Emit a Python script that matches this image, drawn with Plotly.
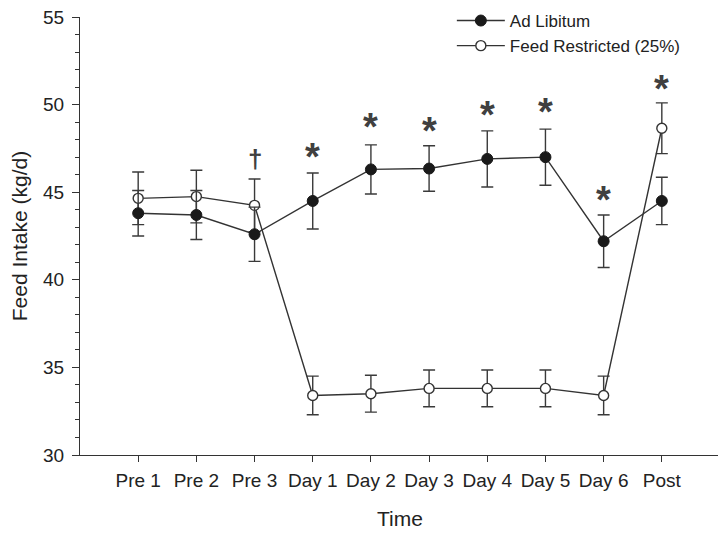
import plotly.graph_objects as go

periods = ['Pre 1', 'Pre 2', 'Pre 3', 'Day 1', 'Day 2', 'Day 3', 'Day 4', 'Day 5', 'Day 6', 'Post']

ad_lib = [43.8, 43.7, 42.6, 44.5, 46.3, 46.35, 46.9, 47.0, 42.2, 44.5]
ad_lib_se = [1.3, 1.4, 1.55, 1.6, 1.4, 1.3, 1.6, 1.6, 1.5, 1.35]

restricted = [44.65, 44.75, 44.25, 33.4, 33.5, 33.8, 33.8, 33.8, 33.4, 48.65]
restricted_se = [1.5, 1.5, 1.5, 1.1, 1.05, 1.05, 1.05, 1.05, 1.1, 1.45]

# significance marks above the ad libitum bars
sig_periods = ['Pre 3', 'Day 1', 'Day 2', 'Day 3', 'Day 4', 'Day 5', 'Day 6', 'Post']
sig_marks = ['†', '*', '*', '*', '*', '*', '*', '*']
sig_y = [46.9, 47.3, 49.0, 48.8, 49.7, 49.85, 44.85, 51.2]

LINE = '#333333'
FONT = 'Liberation Sans, Arial, sans-serif'

x_idx = list(range(len(periods)))

fig = go.Figure()

fig.add_trace(go.Scatter(
    x=x_idx, y=restricted, name='Feed Restricted (25%)',
    mode='lines+markers',
    line={'color': LINE, 'width': 1.4},
    marker={'symbol': 'circle', 'size': 10, 'color': 'white',
            'line': {'color': LINE, 'width': 1.4}},
    error_y={'type': 'data', 'array': restricted_se, 'color': '#3a3a3a',
             'thickness': 1.4, 'width': 6},
))

fig.add_trace(go.Scatter(
    x=x_idx, y=ad_lib, name='Ad Libitum',
    mode='lines+markers',
    line={'color': LINE, 'width': 1.4},
    marker={'symbol': 'circle', 'size': 11, 'color': '#1a1a1a',
            'line': {'color': '#1a1a1a', 'width': 1}},
    error_y={'type': 'data', 'array': ad_lib_se, 'color': '#3a3a3a',
             'thickness': 1.4, 'width': 6},
))

for p, m, y in zip(sig_periods, sig_marks, sig_y):
    star = m == '*'
    fig.add_annotation(
        x=periods.index(p), y=y, text=f'<b>{m}</b>', showarrow=False,
        font={'family': FONT, 'size': 38 if star else 26, 'color': '#404040'},
        xanchor='center', yanchor='middle',
        yshift=-5 if star else 0,
    )

# the page body adds an 8px offset, so the figure is sized to fit inside the window
fig.update_layout(
    width=718, height=528,
    margin={'l': 72, 'r': 6, 't': 9, 'b': 81, 'autoexpand': False},
    paper_bgcolor='white', plot_bgcolor='white',
    font={'family': FONT, 'size': 19, 'color': '#222222'},
    showlegend=True,
    legend={'x': 0.581, 'y': 1.032, 'xanchor': 'left', 'yanchor': 'top',
            'traceorder': 'reversed', 'font': {'size': 17},
            'bgcolor': 'rgba(0,0,0,0)', 'tracegroupgap': 0,
            'itemwidth': 48},
)

fig.update_xaxes(
    range=[-1, 10], automargin=False,
    tickmode='array', tickvals=x_idx, ticktext=periods,
    showline=True, linecolor=LINE, linewidth=1.2,
    ticks='outside', ticklen=6, tickcolor=LINE, ticklabelstandoff=2,
    ticklabeloverflow='allow',
    showgrid=False, zeroline=False,
    title={'text': 'Time', 'font': {'size': 21}, 'standoff': 21},
)

fig.update_yaxes(
    range=[30, 55], automargin=False,
    tickvals=[30, 35, 40, 45, 50, 55],
    showline=True, linecolor=LINE, linewidth=1.2,
    ticks='outside', ticklen=7, tickcolor=LINE, ticklabelstandoff=4,
    ticklabeloverflow='allow',
    minor={'ticks': 'outside', 'ticklen': 4, 'dtick': 1, 'tickcolor': LINE},
    showgrid=False, zeroline=False,
    title={'text': 'Feed Intake (kg/d)', 'font': {'size': 21}, 'standoff': 11},
)

fig.write_html('out.html')
